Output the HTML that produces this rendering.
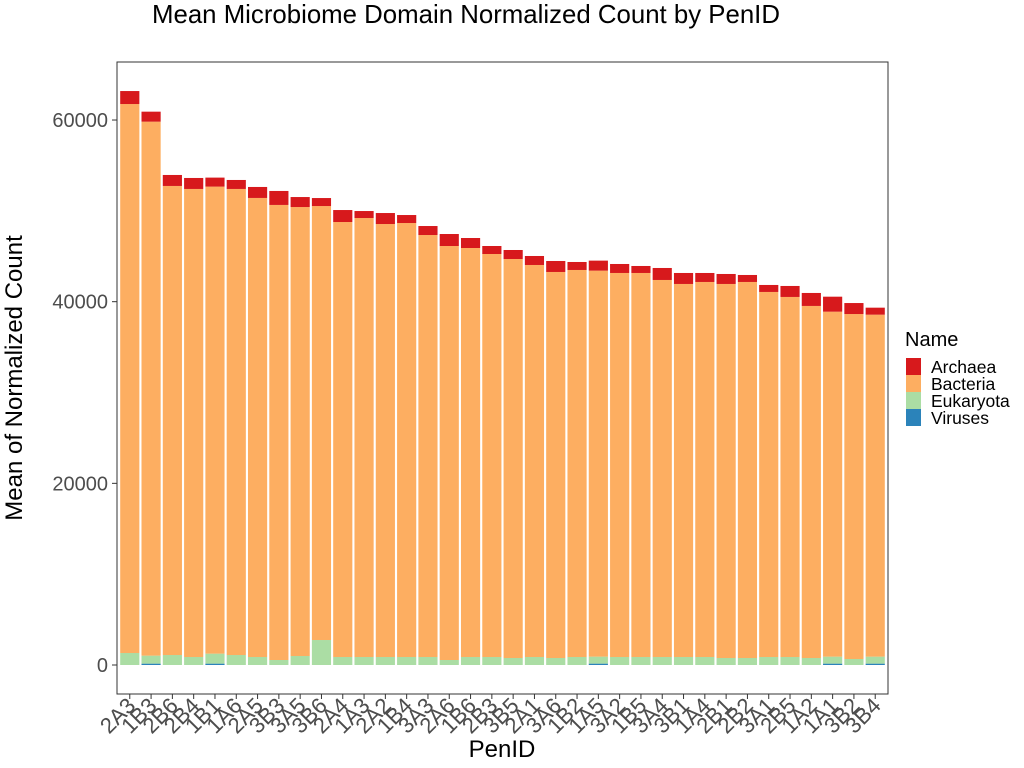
<!DOCTYPE html>
<html><head><meta charset="utf-8"><style>body{margin:0;background:#fff}svg{display:block;font-family:"Liberation Sans",sans-serif}</style></head>
<body>
<svg id="c" width="1024" height="768">
<text x="466" y="23" font-size="25.8" text-anchor="middle">Mean Microbiome Domain Normalized Count by PenID</text>
<text transform="translate(22,378) rotate(-90)" font-size="24" text-anchor="middle">Mean of Normalized Count</text>
<text x="502" y="757" font-size="24" text-anchor="middle">PenID</text>
<g id="bars"></g>
<rect x="117" y="62" width="771" height="632" fill="none" stroke="#333" stroke-width="1"/>
<g id="axes"></g>
<g>
<text x="905" y="346" font-size="20">Name</text>
<rect x="906" y="358" width="15" height="17" fill="#D7191C"/>
<text x="931" y="373" font-size="17.5">Archaea</text>
<rect x="906" y="375" width="15" height="17" fill="#FDAE61"/>
<text x="931" y="390" font-size="17.5">Bacteria</text>
<rect x="906" y="392" width="15" height="17" fill="#ABDDA4"/>
<text x="931" y="407" font-size="17.5">Eukaryota</text>
<rect x="906" y="409" width="15" height="17" fill="#2B83BA"/>
<text x="931" y="424" font-size="17.5">Viruses</text>
</g>
</svg>
<script>
const categories=["2A3","1B3","2B6","2B4","1B1","1A6","2A5","3B3","3A5","3B6","2A4","1A3","2A2","1B4","3A3","2A6","1B6","2B3","3B5","2A1","3A6","1B2","1A5","3A2","1B5","3A4","3B1","1A4","2B1","2B2","3A1","2B5","1A2","1A1","3B2","3B4"];
const viruses=[0,150,0,0,150,0,0,0,0,0,0,0,0,0,0,0,0,0,0,0,0,0,150,0,0,0,0,0,0,0,0,0,0,150,0,150];
const eukaryota=[1320,880,1100,880,1100,1100,880,550,990,2750,880,880,880,880,880,550,880,880,770,880,770,880,770,880,880,880,880,880,770,770,880,880,770,770,660,770];
const bacteria=[60440,58790,51640,51530,51420,51310,50540,50100,49430,47780,47890,48330,47670,47780,46460,45580,45030,44370,43930,43160,42500,42610,42500,42280,42280,41510,41070,41290,41180,41400,40190,39640,38760,37980,37980,37650];
const archaea=[1430,1100,1210,1210,990,990,1210,1540,1100,880,1320,770,1210,880,990,1320,1100,880,990,990,1210,880,1100,990,770,1320,1210,990,1100,770,770,1210,1430,1650,1210,770];
const yTicks=[0,20000,40000,60000];
const NS="http://www.w3.org/2000/svg";
const y=v=>665-v*0.009083;
const unit=771/(categories.length-1+1.2);
const x=i=>117+(0.6+i)*unit;
const bw=unit*0.9;
const bars=document.getElementById('bars'),axes=document.getElementById('axes');
const series=[["viruses",viruses,"#2B83BA"],["eukaryota",eukaryota,"#ABDDA4"],["bacteria",bacteria,"#FDAE61"],["archaea",archaea,"#D7191C"]];
categories.forEach((c,i)=>{
  let base=0;
  series.forEach(([n,arr,col])=>{
    const v=arr[i]; if(v<=0)return;
    const r=document.createElementNS(NS,'rect');
    r.setAttribute('x',x(i)-bw/2);r.setAttribute('width',bw);
    r.setAttribute('y',y(base+v));r.setAttribute('height',y(base)-y(base+v));
    r.setAttribute('fill',col);
    
    
    bars.appendChild(r);base+=v;
  });
  const t=document.createElementNS(NS,'line');
  t.setAttribute('x1',x(i));t.setAttribute('x2',x(i));t.setAttribute('y1',694);t.setAttribute('y2',699);t.setAttribute('stroke','#333');
  
  
  axes.appendChild(t);
  const l=document.createElementNS(NS,'text');
  l.setAttribute('transform',`translate(${x(i)+7},${707}) rotate(-45)`);
  l.setAttribute('text-anchor','end');l.setAttribute('font-size','22');l.setAttribute('fill','#4d4d4d');
  l.textContent=c;
  
  
  axes.appendChild(l);
});
yTicks.forEach(v=>{
  const t=document.createElementNS(NS,'line');
  t.setAttribute('x1',112);t.setAttribute('x2',117);t.setAttribute('y1',y(v));t.setAttribute('y2',y(v));t.setAttribute('stroke','#333');
  
  
  axes.appendChild(t);
  const l=document.createElementNS(NS,'text');
  l.setAttribute('x',108);l.setAttribute('y',y(v)+7);l.setAttribute('text-anchor','end');l.setAttribute('font-size','20');l.setAttribute('fill','#4d4d4d');
  l.textContent=v;
  
  
  axes.appendChild(l);
});
</script>
</body></html>
